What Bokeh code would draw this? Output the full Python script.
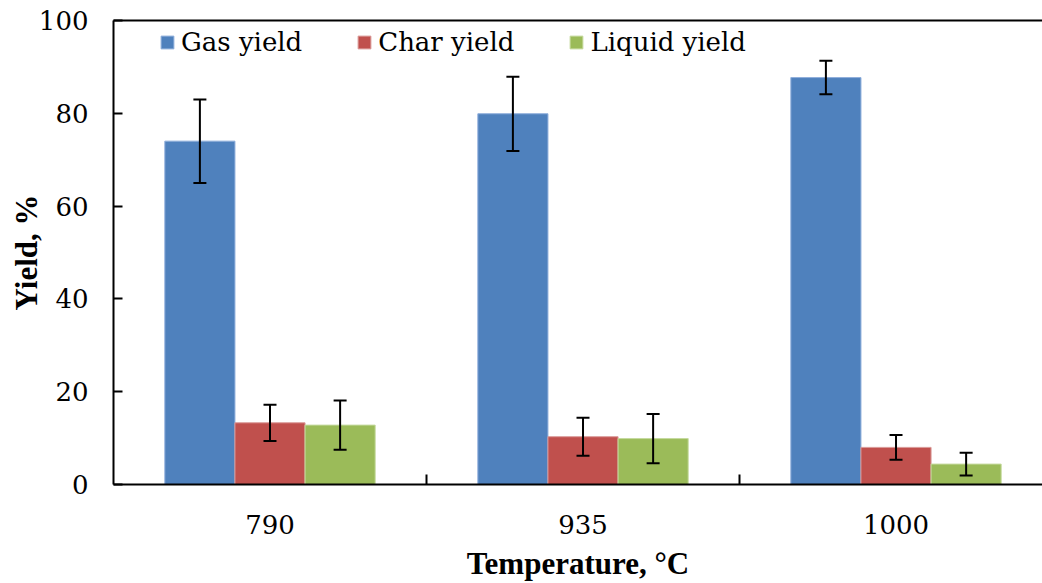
from bokeh.plotting import figure
from bokeh.models import (Range1d, LinearAxis, FixedTicker,
                          Whisker, TeeHead, ColumnDataSource, Legend, LegendItem)
from bokeh.transform import dodge
from bokeh.embed import file_html
from bokeh.resources import INLINE

# ---- data ----
temperatures = ["790", "935", "1000"]
gas_yield = [74.0, 79.9, 87.7]
gas_err = [9.0, 8.0, 3.6]
char_yield = [13.3, 10.3, 8.0]
char_err = [3.9, 4.1, 2.65]
liquid_yield = [12.8, 9.9, 4.4]
liquid_err = [5.3, 5.3, 2.45]
y_ticks = [0, 20, 40, 60, 80, 100]

BOLD_FONT = "Liberation Serif"
FONT = "DejaVu Serif"
FS = "26px"
BW = 0.224

centers = [i + 0.5 for i in range(len(temperatures))]
dividers = [i for i in range(1, len(temperatures))]

src = ColumnDataSource(dict(
    xc=centers,
    gas=gas_yield, gas_lo=[v - e for v, e in zip(gas_yield, gas_err)], gas_hi=[v + e for v, e in zip(gas_yield, gas_err)],
    char=char_yield, char_lo=[v - e for v, e in zip(char_yield, char_err)], char_hi=[v + e for v, e in zip(char_yield, char_err)],
    liq=liquid_yield, liq_lo=[v - e for v, e in zip(liquid_yield, liquid_err)], liq_hi=[v + e for v, e in zip(liquid_yield, liquid_err)],
))

p = figure(width=1042, height=583, x_range=Range1d(0, 2.968),
           y_range=Range1d(0, 100), x_axis_location=None, output_backend="svg",
           toolbar_location=None, tools="")
p.min_border_left = 113
p.min_border_right = 0
p.min_border_top = 20
p.min_border_bottom = 93
p.grid.visible = False
p.outline_line_color = None
p.background_fill_color = "white"
p.border_fill_color = "white"

# y axis
ya = p.yaxis[0]
ya.ticker = FixedTicker(ticks=y_ticks)
ya.major_tick_in = 9
ya.major_tick_out = 0
ya.minor_tick_line_color = None
ya.axis_line_width = 2
ya.major_tick_line_width = 2
ya.major_label_standoff = 25
ya.major_label_text_font = FONT
ya.major_label_text_font_size = FS
ya.major_label_text_color = "black"
ya.axis_label = "Yield, %"
ya.axis_label_text_font = BOLD_FONT
ya.axis_label_text_font_size = "31px"
ya.axis_label_text_font_style = "bold"
ya.axis_label_text_color = "black"
ya.axis_label_standoff = -8

# x axis: labels at category centres, minor ticks at category boundaries
xa = LinearAxis(ticker=FixedTicker(ticks=centers, minor_ticks=dividers),
                major_label_overrides={c: t for c, t in zip(centers, temperatures)})
xa.axis_line_width = 2
xa.major_tick_line_color = None
xa.major_tick_in = 0
xa.major_tick_out = 0
xa.minor_tick_in = 10
xa.minor_tick_out = 0
xa.minor_tick_line_width = 2
xa.minor_tick_line_color = "black"
xa.major_label_standoff = 30
xa.major_label_text_font = FONT
xa.major_label_text_font_size = FS
xa.major_label_text_color = "black"
xa.axis_label = "Temperature, °C"
xa.axis_label_text_font = BOLD_FONT
xa.axis_label_text_font_size = "31px"
xa.axis_label_text_font_style = "bold"
xa.axis_label_text_color = "black"
xa.axis_label_standoff = 9
p.add_layout(xa, "below")

# top line
ta = LinearAxis(ticker=FixedTicker(ticks=[]))
ta.axis_line_width = 2
ta.major_tick_line_color = None
ta.minor_tick_line_color = None
ta.major_label_standoff = 0
p.add_layout(ta, "above")

r_gas = p.vbar(x=dodge("xc", -BW), top="gas", width=BW, source=src,
               fill_color="#4F81BD", line_color="#8EAEDB", line_width=1)
r_char = p.vbar(x=dodge("xc", 0), top="char", width=BW, source=src,
                fill_color="#C0504D", line_color="#DA9A98", line_width=1)
r_liq = p.vbar(x=dodge("xc", BW), top="liq", width=BW, source=src,
               fill_color="#9BBB59", line_color="#C5DA9E", line_width=1)

for key, off in (("gas", -BW), ("char", 0), ("liq", BW)):
    w = Whisker(source=src, base=dodge("xc", off), upper=key + "_hi", lower=key + "_lo",
                line_color="black", line_width=2, level="overlay",
                upper_head=TeeHead(size=13, line_width=2, line_color="black"),
                lower_head=TeeHead(size=13, line_width=2, line_color="black"))
    p.add_layout(w)

legend = Legend(items=[LegendItem(label="Gas yield", renderers=[r_gas]),
                       LegendItem(label="Char yield", renderers=[r_char]),
                       LegendItem(label="Liquid yield", renderers=[r_liq])],
                orientation="horizontal", location=(46, 427), padding=0, margin=0,
                border_line_color=None, background_fill_alpha=0,
                label_text_font=FONT, label_text_font_size=FS, label_text_color="black",
                glyph_width=16, glyph_height=16, label_standoff=6, spacing=54)
p.add_layout(legend, "center")

open("out.html", "w").write(file_html(p, INLINE))
